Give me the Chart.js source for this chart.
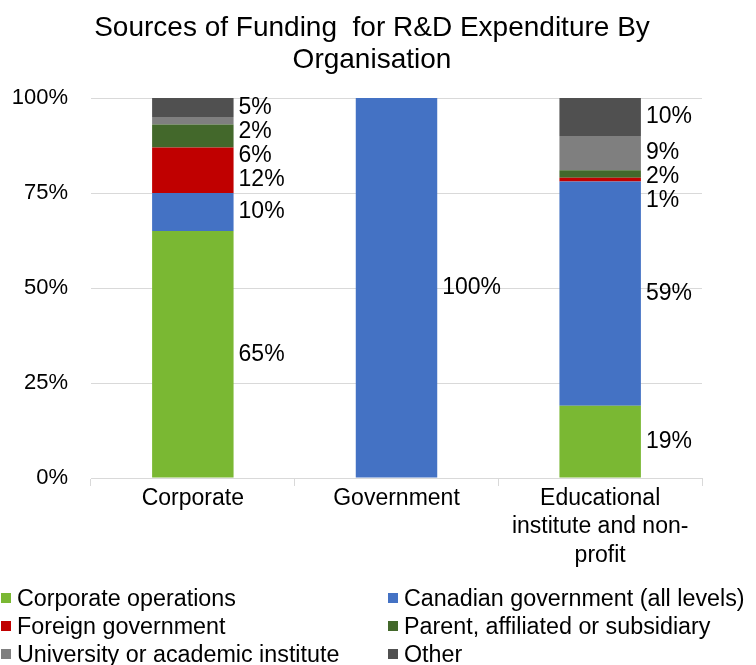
<!DOCTYPE html>
<html>
<head>
<meta charset="utf-8">
<script src="https://cdn.jsdelivr.net/npm/chart.js@4.4.0/dist/chart.umd.min.js"></script>
<style>
  html, body { margin: 0; padding: 0; background: #fff; }
  #wrap { position: relative; width: 756px; height: 665px; overflow: hidden; }
  #legend { position: absolute; left: 0; top: 0; width: 756px; height: 665px; pointer-events: none;
            font: 23.3px "Liberation Sans", Arial, sans-serif; color: #000; }
  .item { position: absolute; display: flex; align-items: center; white-space: nowrap; height: 28px; }
  .box { width: 10px; height: 10px; margin-right: 6px; }
</style>
</head>
<body>
<div id="wrap">
  <canvas id="chart" width="756" height="665"></canvas>
  <div id="legend"></div>
</div>
<script>
// data
const categories = [["Corporate"], ["Government"], ["Educational", "institute and non-", "profit"]];
const seriesNames = [
  "Corporate operations",
  "Canadian government (all levels)",
  "Foreign government",
  "Parent, affiliated or subsidiary",
  "University or academic institute",
  "Other",
];
const corporateOps = [65, 0, 19];
const canadianGov = [10, 100, 59];
const foreignGov = [12, 0, 1];
const parentAffil = [6, 0, 2];
const university = [2, 0, 9];
const other = [5, 0, 10];
const yTicks = [0, 25, 50, 75, 100];

const seriesValues = [corporateOps, canadianGov, foreignGov, parentAffil, university, other];
const seriesColors = ["#7AB833", "#4472C4", "#C00000", "#43682B", "#7F7F7F", "#505050"];

const FONT = '"Liberation Sans", Arial, sans-serif';
Chart.defaults.font.family = FONT;
Chart.defaults.color = "#000";

// value labels to the right of each segment, nudged apart when crowded
const segLabels = {
  id: "segLabels",
  afterDatasetsDraw(chart) {
    const ctx = chart.ctx;
    ctx.save();
    ctx.font = "23px " + FONT;
    ctx.fillStyle = "#000";
    ctx.textAlign = "left";
    ctx.textBaseline = "middle";
    categories.forEach((c, i) => {
      const items = [];
      chart.data.datasets.forEach((ds, d) => {
        const v = ds.data[i];
        if (!v) return;
        const bar = chart.getDatasetMeta(d).data[i];
        items.push({ text: v + "%", x: bar.x + bar.width / 2 + 5, y: (bar.y + bar.base) / 2 });
      });
      items.sort((a, b) => a.y - b.y);
      let prev = -Infinity;
      items.forEach(it => {
        it.y = Math.max(it.y, prev + 24);
        prev = it.y;
        ctx.fillText(it.text, it.x, it.y);
      });
    });
    ctx.restore();
  },
};

new Chart(document.getElementById("chart"), {
  type: "bar",
  data: {
    labels: categories,
    datasets: seriesNames.map((name, i) => ({
      label: name,
      data: seriesValues[i],
      backgroundColor: seriesColors[i],
      borderWidth: 0,
      barPercentage: 0.4,
      categoryPercentage: 1.0,
    })),
  },
  options: {
    responsive: false,
    animation: false,
    layout: { padding: { left: 0, right: 12, top: 0, bottom: 92 } },
    plugins: {
      legend: { display: false },
      tooltip: { enabled: false },
      title: {
        display: true,
        text: ["Sources of Funding  for R&D Expenditure By", "Organisation"],
        color: "#000",
        font: { size: 28, weight: "normal", lineHeight: 32 / 28 },
        padding: { top: 12, bottom: 22 },
      },
    },
    scales: {
      x: {
        stacked: true,
        grid: { drawOnChartArea: false, drawTicks: true, tickLength: 8, color: "#D9D9D9", offset: true },
        border: { display: true, color: "#D9D9D9" },
        ticks: { font: { size: 23, lineHeight: 28.5 / 23 }, color: "#000", padding: -2, maxRotation: 0, autoSkip: false },
        afterFit(s) { s.height = 95; },
      },
      y: {
        stacked: true,
        min: 0,
        max: 100,
        grid: { color: "#D9D9D9", drawTicks: false },
        border: { display: false },
        ticks: { font: { size: 22 }, color: "#000", padding: 23, callback: v => v + "%" },
        afterBuildTicks(s) { s.ticks = yTicks.map(v => ({ value: v })); },
        afterFit(s) { s.width = 91; },
      },
      pad: {
        type: "linear",
        position: "right",
        display: true,
        grid: { display: false },
        border: { display: false },
        ticks: { display: false },
        afterFit(s) { s.width = 42; },
      },
    },
  },
  plugins: [segLabels],
});

// two-column legend below the chart
const legend = document.getElementById("legend");
seriesNames.forEach((name, i) => {
  const col = i % 2, row = Math.floor(i / 2);
  const el = document.createElement("div");
  el.className = "item";
  el.style.left = (col ? 388 : 1) + "px";
  el.style.top = (584 + row * 28) + "px";
  el.innerHTML = '<span class="box" style="background:' + seriesColors[i] + '"></span>' + name;
  legend.appendChild(el);
});
</script>
</body>
</html>
